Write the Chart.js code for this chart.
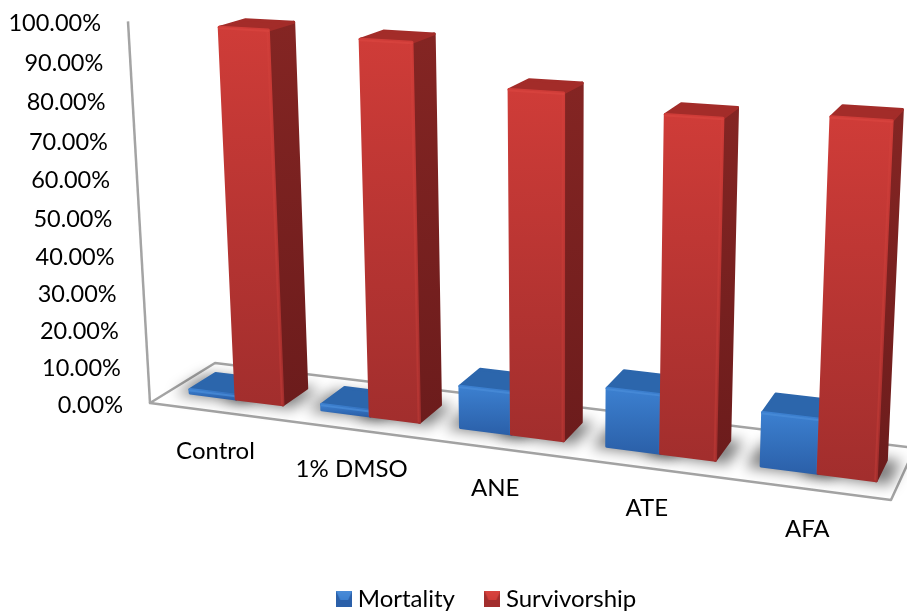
<!DOCTYPE html>
<html>
<head>
<meta charset="utf-8">
<title>Mortality and survivorship</title>
<style>
  html, body { margin: 0; padding: 0; background: #fff; }
  canvas { display: block; }
</style>
<script src="https://cdn.jsdelivr.net/npm/chart.js@4"></script>
</head>
<body>
<canvas id="chart" width="907" height="615"></canvas>
<script>
const categories = ["Control", "1% DMSO", "ANE", "ATE", "AFA"];
const mortality = [1, 1.5, 11, 15, 13.5];
const survivorship = [98, 97, 87, 83.5, 85.5];

const FONT = "Lato, sans-serif";

// Floor corners and the vanishing point of the uprights, in canvas pixels
const FLOOR = [[150, 403], [891, 500], [915, 448], [215, 363]];
const WALL_TOP = [128, 22];
const UPRIGHT_VP = [562, 7550];
const DEPTH = [0.3, 0.7];
const BAR_SHIFT = 0.002;

// Unit square to floor quad, plus a column for height
const buildProjection = () => {
  const [[x0, y0], [x1, y1], [x2, y2], [x3, y3]] = FLOOR;
  const dx1 = x1 - x2, dx2 = x3 - x2, sx = x0 - x1 + x2 - x3;
  const dy1 = y1 - y2, dy2 = y3 - y2, sy = y0 - y1 + y2 - y3;
  const den = dx1 * dy2 - dx2 * dy1;
  const g = (sx * dy2 - dx2 * sy) / den;
  const h = (dx1 * sy - sx * dy1) / den;
  const a = x1 - x0 + g * x1, b = x3 - x0 + h * x3;
  const d = y1 - y0 + g * y1, e = y3 - y0 + h * y3;
  const k = (WALL_TOP[0] - x0) / (UPRIGHT_VP[0] - WALL_TOP[0]);
  return (u, v, z) => {
    const w = g * u + h * z + 1 + k * v;
    return [
      (a * u + b * z + x0 + k * UPRIGHT_VP[0] * v) / w,
      (d * u + e * z + y0 + k * UPRIGHT_VP[1] * v) / w,
    ];
  };
};
const project = buildProjection();

const PALETTE = [
  { top: "#2c66ac", side: ["#22528c", "#1b4474"], front: ["#3c80d0", "#2b60a9"], edge: "#4a8cd8" },
  { top: "#a32c29", side: ["#842523", "#6c1c1c"], front: ["#cf3c38", "#a22e2d"], edge: "#d8443f" },
];

const tracePath = (ctx, pts) => {
  ctx.beginPath();
  pts.forEach((p, i) => (i ? ctx.lineTo(p[0], p[1]) : ctx.moveTo(p[0], p[1])));
  ctx.closePath();
};

const fillFace = (ctx, pts, fill) => {
  tracePath(ctx, pts);
  ctx.fillStyle = fill;
  ctx.strokeStyle = fill;
  ctx.lineJoin = "round";
  ctx.lineWidth = 3;
  ctx.fill();
  ctx.stroke();
};

const verticalGradient = (ctx, pts, stops) => {
  const ys = pts.map((p) => p[1]);
  const grad = ctx.createLinearGradient(0, Math.min(...ys), 0, Math.max(...ys));
  grad.addColorStop(0, stops[0]);
  grad.addColorStop(1, stops[1]);
  return grad;
};

// Bar element pixels -> unit coordinates on the chart area
const barBox = (chart, bar) => {
  const { left, width, bottom, height } = chart.chartArea;
  const { x, y, width: w } = bar.getProps(["x", "y", "width"], true);
  return {
    u0: (x - w / 2 - left) / width + BAR_SHIFT,
    u1: (x + w / 2 - left) / width + BAR_SHIFT,
    v: (bottom - y) / height,
  };
};

const drawBar = (ctx, box, colors) => {
  const { u0, u1, v } = box;
  const [z0, z1] = DEPTH;
  const fbl = project(u0, 0, z0), fbr = project(u1, 0, z0);
  const ftl = project(u0, v, z0), ftr = project(u1, v, z0);
  const bbr = project(u1, 0, z1), btr = project(u1, v, z1), btl = project(u0, v, z1);

  const side = [fbr, bbr, btr, ftr];
  fillFace(ctx, side, verticalGradient(ctx, side, colors.side));
  fillFace(ctx, [ftl, ftr, btr, btl], colors.top);

  const front = [fbl, fbr, ftr, ftl];
  fillFace(ctx, front, verticalGradient(ctx, front, colors.front));

  // soft bevel along the top and right of the front face
  ctx.strokeStyle = colors.edge;
  ctx.lineCap = "round";
  ctx.globalAlpha = 0.75;
  ctx.lineWidth = 2;
  ctx.beginPath();
  ctx.moveTo(ftl[0], ftl[1] + 1);
  ctx.lineTo(ftr[0], ftr[1] + 1);
  ctx.stroke();
  ctx.globalAlpha = 0.3;
  ctx.beginPath();
  ctx.moveTo(ftr[0] - 1, ftr[1] + 1);
  ctx.lineTo(fbr[0] - 1, fbr[1] - 1);
  ctx.stroke();
  ctx.globalAlpha = 1;
};

const drawFloorShadow = (ctx, box) => {
  const [z0, z1] = DEPTH;
  tracePath(ctx, [
    project(box.u0 - 0.018, 0, z0 - 0.05),
    project(box.u1 + 0.018, 0, z0 - 0.05),
    project(box.u1 + 0.018, 0, z1 + 0.02),
    project(box.u0 - 0.018, 0, z1 + 0.02),
  ]);
  ctx.fill();
};

const scene3d = {
  id: "scene3d",
  // bars are projected by hand, so the flat ones are skipped
  beforeDatasetsDraw(chart) {
    const { ctx, scales } = chart;
    const metas = chart.data.datasets.map((_, i) => chart.getDatasetMeta(i));

    ctx.save();

    // floor outline and the upright axis line
    ctx.strokeStyle = "#a4a4a4";
    ctx.lineWidth = 2.5;
    ctx.lineJoin = "round";
    tracePath(ctx, [project(0, 0, 0), project(1, 0, 0), project(1, 0, 1), project(0, 0, 1)]);
    ctx.stroke();
    ctx.beginPath();
    ctx.moveTo(...project(0, 0, 0));
    ctx.lineTo(...project(0, 1, 0));
    ctx.stroke();

    ctx.save();
    ctx.filter = "blur(7px)";
    ctx.fillStyle = "rgba(0,0,0,0.5)";
    metas.forEach((meta) => meta.data.forEach((bar) => drawFloorShadow(ctx, barBox(chart, bar))));
    ctx.restore();

    // left to right, blue before red, so nearer faces paint over
    categories.forEach((_, i) => {
      metas.forEach((meta, d) => drawBar(ctx, barBox(chart, meta.data[i]), PALETTE[d]));
    });

    // value labels follow the upright axis line
    ctx.fillStyle = "#000";
    ctx.font = `23.5px ${FONT}`;
    ctx.textAlign = "right";
    ctx.textBaseline = "middle";
    scales.y.ticks.forEach((tick) => {
      const v = (chart.chartArea.bottom - scales.y.getPixelForValue(tick.value)) / chart.chartArea.height;
      const [px, py] = project(0, v, 0);
      ctx.fillText(tick.label, px - 27, py + 2);
    });

    // category labels sit under the front floor edge
    ctx.font = `24px ${FONT}`;
    ctx.textAlign = "center";
    categories.forEach((label, i) => {
      const u = (scales.x.getPixelForValue(i) - chart.chartArea.left) / chart.chartArea.width;
      const [px, py] = project(u, 0, 0);
      ctx.fillText(label, px, py + 40);
    });

    ctx.restore();
    return false;
  },
};

// Small bevelled legend swatch
const legendSwatch = (colors) => {
  const c = document.createElement("canvas");
  c.width = 16;
  c.height = 16;
  const g = c.getContext("2d");
  g.fillStyle = colors.front[1];
  g.fillRect(0, 0, 16, 16);
  const grad = g.createLinearGradient(0, 0, 0, 9);
  grad.addColorStop(0, colors.edge);
  grad.addColorStop(1, colors.front[0]);
  g.fillStyle = grad;
  g.beginPath();
  g.moveTo(0, 0);
  g.lineTo(16, 0);
  g.lineTo(12, 9);
  g.lineTo(4, 9);
  g.closePath();
  g.fill();
  return c;
};

new Chart(document.getElementById("chart"), {
  type: "bar",
  data: {
    labels: categories,
    datasets: [
      { label: "Mortality", data: mortality, backgroundColor: "#3c80d0" },
      { label: "Survivorship", data: survivorship, backgroundColor: "#cf3c38" },
    ],
  },
  options: {
    responsive: false,
    animation: false,
    layout: { padding: { left: 82, right: 10, top: 10, bottom: -6 } },
    datasets: { bar: { categoryPercentage: 0.71, barPercentage: 1 } },
    scales: {
      x: { display: false },
      y: {
        display: false,
        min: 0,
        max: 100,
        ticks: { stepSize: 10, callback: (value) => `${value.toFixed(2)}%` },
      },
    },
    plugins: {
      tooltip: { enabled: false },
      legend: {
        position: "bottom",
        labels: {
          usePointStyle: true,
          boxWidth: 3,
          pointStyleWidth: 3,
          color: "#000",
          padding: 36,
          font: { family: FONT, size: 24 },
          generateLabels: (chart) =>
            chart.data.datasets.map((ds, i) => ({
              text: ds.label,
              datasetIndex: i,
              pointStyle: legendSwatch(PALETTE[i]),
              fontColor: "#000",
              lineWidth: 0,
            })),
        },
      },
    },
  },
  plugins: [scene3d],
});
</script>
</body>
</html>
